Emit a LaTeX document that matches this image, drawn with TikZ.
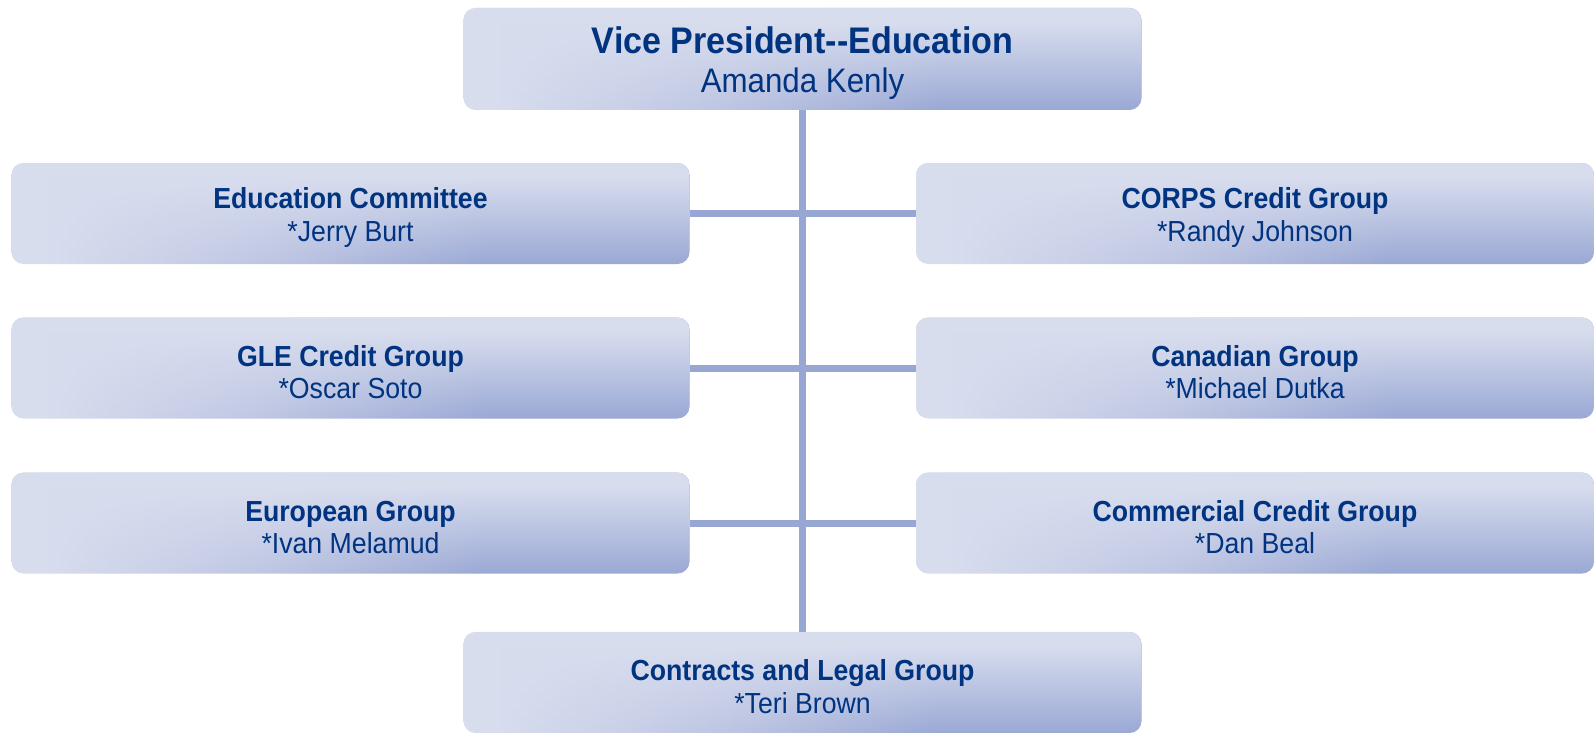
\documentclass[tikz,border=0pt]{standalone}
\usepackage{fontspec}
\usetikzlibrary{fadings}
\setmainfont[FakeStretch=0.92]{Liberation Sans}

\definecolor{boxlight}{RGB}{216,221,238}
\definecolor{boxmid}{RGB}{188,196,226}
\definecolor{boxdark}{RGB}{150,165,211}
\definecolor{textblue}{RGB}{0,51,128}
\definecolor{linkblue}{RGB}{152,166,212}

% the box fills the 25bp--75bp band of the shading
\pgfdeclarehorizontalshading{orgshade}{100bp}{color(0bp)=(boxlight); color(27bp)=(boxlight); color(44bp)=(boxmid); color(60bp)=(boxdark); color(100bp)=(boxdark)}
\pgfdeclareverticalshading{orgfadeshade}{100bp}{color(0bp)=(black); color(22bp)=(black); color(68bp)=(white); color(100bp)=(white)}
\pgfdeclarefading{orgfade}{\pgfuseshading{orgfadeshade}}

\newcommand{\pad}[1]{\rule{0pt}{#1}}

\tikzset{
  unit/.style={rectangle, rounded corners=12pt, shade, shading=orgshade,
    postaction={fill=boxlight, path fading=orgfade},
    minimum width=678pt, minimum height=101pt, inner sep=0pt, align=center,
    text=textblue, font=\fontsize{29}{32.5}\selectfont},
  link/.style={draw=linkblue, line width=7pt},
}

\begin{document}
\begin{tikzpicture}[x=1pt, y=-1pt]
\useasboundingbox (0,0) rectangle (1595,733);

\node[unit, minimum height=102pt, font=\fontsize{34}{39.5}\selectfont] (vp) at (802.5,59)
  {\pad{35pt}{\fontsize{37}{39.5}\selectfont\bfseries Vice President-{}-Education}\\Amanda Kenly};

\node[unit] (edu)   at (350.5,213.5) {\pad{29pt}\textbf{Education Committee}\\{}*Jerry Burt};
\node[unit] (gle)   at (350.5,368)   {\pad{29pt}\textbf{GLE Credit Group}\\{}*Oscar Soto};
\node[unit] (euro)  at (350.5,523)   {\pad{29pt}\textbf{European Group}\\{}*Ivan Melamud};
\node[unit] (corps) at (1255,213.5)  {\pad{29pt}\textbf{CORPS Credit Group}\\{}*Randy Johnson};
\node[unit] (can)   at (1255,368)    {\pad{29pt}\textbf{Canadian Group}\\{}*Michael Dutka};
\node[unit] (comm)  at (1255,523)    {\pad{29pt}\textbf{Commercial Credit Group}\\{}*Dan Beal};
\node[unit] (legal) at (802.5,682.5) {\pad{29pt}\textbf{Contracts and Legal Group}\\{}*Teri Brown};

\path[link] (vp) -- (legal);
\path[link] (edu) -- (corps);
\path[link] (gle) -- (can);
\path[link] (euro) -- (comm);
\end{tikzpicture}
\end{document}
